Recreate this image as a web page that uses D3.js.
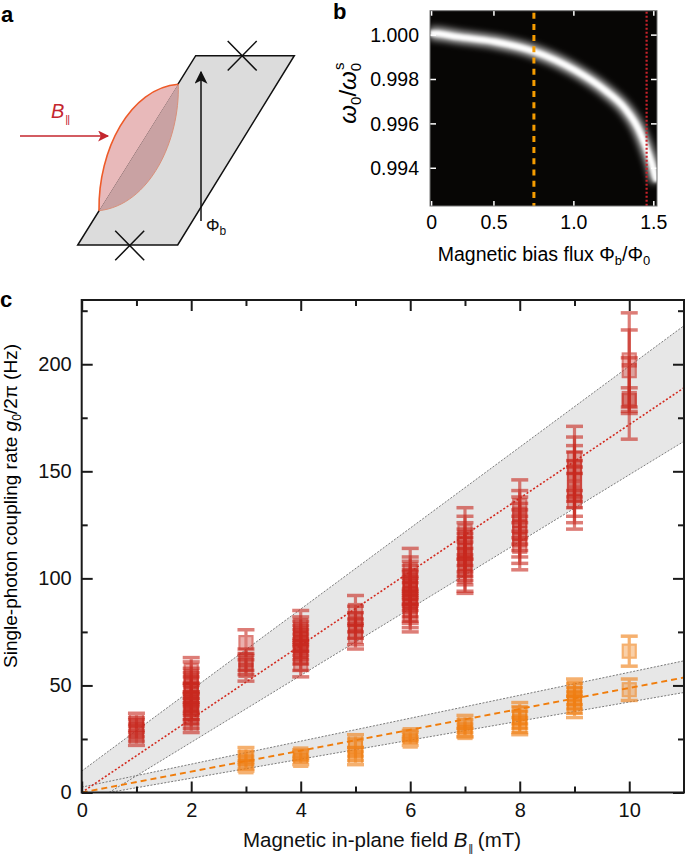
<!DOCTYPE html>
<html>
<head>
<meta charset="utf-8">
<script src="https://cdn.jsdelivr.net/npm/d3@7"></script>
<style>
body { margin: 0; background: #fff; }
text { font-family: "Liberation Sans", Arial, Helvetica, sans-serif; }
</style>
</head>
<body>
<div id="fig"></div>
<script>
// ---- panel b : resonance ridge
var phiRidge   = [0.10, 0.11, 0.277, 0.506, 0.756, 1.006, 1.194, 1.319, 1.402, 1.454, 1.496, 1.517];
var omegaRidge = [1.00008, 1.00008, 0.99992, 0.99970, 0.99925, 0.99842, 0.99752, 0.99670, 0.99580, 0.99490, 0.99400, 0.99340];
var bXTickVals   = [0.11, 0.5, 1.0, 1.5];
var bXTickLabels = ["0", "0.5", "1.0", "1.5"];
var bYTicks      = [1.000, 0.998, 0.996, 0.994];
var phiOrange = 0.75, phiRed = 1.455;

// ---- panel c : single-photon coupling rate (Hz) vs in-plane field (mT)
var redField = [1,1,1,1,1,
    2,2,2,2,2,2,2,2,2,2,2,2,2,
    3,3,3,3,
    4,4,4,4,4,4,4,4,4,
    5,5,5,5,5,
    6,6,6,6,6,6,6,6,6,6,6,6,
    7,7,7,7,7,7,7,7,7,
    8,8,8,8,8,8,8,
    9,9,9,9,9,9,9,
    10,10,10,10];
var redG = [34,32,30,28,25,
    57,54,52,50,48,46,44,42,41,39,37,35,31,
    70,62,60,57,
    78,76,74,72,70,68,66,63,60,
    85,81,78,75,73,
    104,101,99,97,96,95,93,91,89,87,85,83,
    122,119,116,113,111,109,107,104,101,
    134,130,127,124,121,118,115,
    156,152,149,146,142,139,136,
    202,197,184,183];
var redErr = [3,3,4,4,3,
    6,7,6,6,6,5,6,5,5,5,5,5,3,
    6,5,5,5,
    7,6,6,6,6,6,6,6,6,
    7,6,6,6,6,
    10,9,9,9,8,8,8,9,9,8,8,8,
    11,10,10,10,10,10,10,10,8,
    12,11,11,11,11,11,11,
    15,14,13,13,13,13,13,
    22,19,19,6];

var orangeField = [3,3,3,3, 4,4,4, 5,5,5,5, 6,6,6, 7,7,7,7, 8,8,8,8, 9,9,9,9,9, 10,10];
var orangeG     = [18,16,14,12, 18,17,15, 24,21,18,16, 27,26,24, 33,31,29,28, 37,35,33,31, 49,46,44,42,40, 66,48];
var orangeErr   = [3,3,3,2, 2,2,2, 3,4,3,3, 2,2,2, 3,3,3,2, 5,5,5,4, 4,5,5,5,5, 7,5];

// linear fits and confidence bands
var fitField  = [0, 11];
var redFit    = [0, 189];
var orangeFit = [0, 53.7];
var bandField     = [0, 0.5, 11];
var redBandLo     = [0, 0, 164];
var redBandHi     = [10, 19.5, 218];
var orangeBandLo  = [0, 0, 46.7];
var orangeBandHi  = [2.5, 5.2, 61.5];

var W = 685, H = 856;
var svg = d3.select("#fig").append("svg")
    .attr("width", W).attr("height", H);
var defs = svg.append("defs");

// ================= panel a (schematic) =================
var pa = svg.append("g");
var paraPts = [[195.7,55.7],[294.3,55.7],[177.7,245],[77.7,245]];
pa.append("polygon")
    .attr("points", paraPts.map(function(p){ return p.join(","); }).join(" "))
    .attr("fill", "#dcdcdc").attr("stroke", "#111").attr("stroke-width", 1.5)
    .attr("stroke-linejoin", "miter");

// junction crosses
[[242.2,55.8],[129.7,245.5]].forEach(function(c){
    pa.append("path")
        .attr("d", "M" + (c[0]-14.5) + "," + (c[1]-14.8) + "L" + (c[0]+14.5) + "," + (c[1]+14.8) +
                   "M" + (c[0]-14.5) + "," + (c[1]+14.8) + "L" + (c[0]+14.5) + "," + (c[1]-14.8))
        .attr("stroke", "#111").attr("stroke-width", 1.5);
});

// string (lens) on the edge of the loop
var T = [178.3, 84.3], Bp = [99, 210.7];
pa.append("path")
    .attr("d", "M" + Bp + "C98,150 130,88 " + T + "Z")
    .attr("fill", "#e8b9ba");
pa.append("path")
    .attr("d", "M" + T + "C180,140 150,205 " + Bp + "Z")
    .attr("fill", "#c9a2a3");
pa.append("path")
    .attr("d", "M" + T + "C180,140 150,205 " + Bp)
    .attr("fill", "none").attr("stroke", "#d9907a").attr("stroke-width", 1);
pa.append("path")
    .attr("d", "M" + Bp + "C98,150 130,88 " + T)
    .attr("fill", "none").attr("stroke", "#ee5a28").attr("stroke-width", 1.6);

// arrows
defs.append("marker").attr("id", "headRed").attr("viewBox", "0 0 10 10")
    .attr("refX", 9).attr("refY", 5).attr("markerWidth", 12).attr("markerHeight", 11)
    .attr("markerUnits", "userSpaceOnUse").attr("orient", "auto")
  .append("path").attr("d", "M0,0L10,5L0,10L2.5,5Z").attr("fill", "#c4262e");
defs.append("marker").attr("id", "headBlack").attr("viewBox", "0 0 10 10")
    .attr("refX", 9).attr("refY", 5).attr("markerWidth", 13).attr("markerHeight", 13)
    .attr("markerUnits", "userSpaceOnUse").attr("orient", "auto")
  .append("path").attr("d", "M0,0L10,5L0,10L2.5,5Z").attr("fill", "#111");

pa.append("line").attr("x1", 20).attr("y1", 136).attr("x2", 108).attr("y2", 136)
    .attr("stroke", "#c4262e").attr("stroke-width", 1.5).attr("marker-end", "url(#headRed)");
pa.append("line").attr("x1", 201).attr("y1", 221).attr("x2", 201).attr("y2", 72)
    .attr("stroke", "#111").attr("stroke-width", 1.5).attr("marker-end", "url(#headBlack)");

var tB = pa.append("text").attr("x", 51).attr("y", 118).attr("fill", "#c4262e").style("font-size", "20px");
tB.append("tspan").text("B").style("font-style", "italic");
tB.append("tspan").text("||").attr("dx", 1).attr("dy", 5).style("font-size", "11px")
    .style("letter-spacing", "-1px");

var tPhi = pa.append("text").attr("x", 206).attr("y", 231).attr("fill", "#111").style("font-size", "17px");
tPhi.append("tspan").text("\u03a6");
tPhi.append("tspan").text("b").attr("dy", 4).style("font-size", "12px");

svg.append("text").attr("x", 1).attr("y", 22).text("a")
    .style("font-size", "22px").style("font-weight", "bold");

// ================= panel b (frequency map) =================
var bx = d3.scaleLinear().domain([0.1, 1.52]).range([430, 657]);
var by = d3.scaleLinear().domain([0.9923, 1.0011]).range([206, 10.7]);
var pb = svg.append("g");

defs.append("clipPath").attr("id", "clipB").append("rect")
    .attr("x", bx.range()[0]).attr("y", by.range()[1])
    .attr("width", bx.range()[1] - bx.range()[0]).attr("height", by.range()[0] - by.range()[1]);
defs.append("filter").attr("id", "glowWide").attr("x", "-20%").attr("y", "-50%")
    .attr("width", "140%").attr("height", "200%")
  .append("feGaussianBlur").attr("stdDeviation", 3.5);
defs.append("filter").attr("id", "glowCore").attr("x", "-20%").attr("y", "-50%")
    .attr("width", "140%").attr("height", "200%")
  .append("feGaussianBlur").attr("stdDeviation", 1.4);

pb.append("rect")
    .attr("x", bx.range()[0]).attr("y", by.range()[1])
    .attr("width", bx.range()[1] - bx.range()[0]).attr("height", by.range()[0] - by.range()[1])
    .attr("fill", "#070605");

var ridgeLine = d3.line()
    .x(function(d, i){ return bx(phiRidge[i]); })
    .y(function(d){ return by(d); })
    .curve(d3.curveMonotoneX);
var ridgeG = pb.append("g").attr("clip-path", "url(#clipB)");
ridgeG.append("path").attr("d", ridgeLine(omegaRidge))
    .attr("fill", "none").attr("stroke", "#cfcfcf").attr("stroke-width", 12)
    .attr("filter", "url(#glowWide)");
ridgeG.append("path").attr("d", ridgeLine(omegaRidge))
    .attr("fill", "none").attr("stroke", "#ffffff").attr("stroke-width", 5.5)
    .attr("filter", "url(#glowCore)");

// flux markers
pb.append("line").attr("x1", bx(phiOrange)).attr("x2", bx(phiOrange))
    .attr("y1", by.range()[1] + 2).attr("y2", by.range()[0])
    .attr("stroke", "#f59c00").attr("stroke-width", 3).attr("stroke-dasharray", "6,5.2");
pb.append("line").attr("x1", bx(phiRed)).attr("x2", bx(phiRed))
    .attr("y1", by.range()[1] + 1).attr("y2", by.range()[0])
    .attr("stroke", "#c8232b").attr("stroke-width", 2.2).attr("stroke-dasharray", "2,2");

// white inner ticks on all sides
var tickLen = 5;
bXTickVals.forEach(function(v){
    pb.append("line").attr("x1", bx(v)).attr("x2", bx(v))
        .attr("y1", by.range()[0]).attr("y2", by.range()[0] - tickLen)
        .attr("stroke", "#fff").attr("stroke-width", 1.5);
    pb.append("line").attr("x1", bx(v)).attr("x2", bx(v))
        .attr("y1", by.range()[1]).attr("y2", by.range()[1] + tickLen)
        .attr("stroke", "#fff").attr("stroke-width", 1.5);
});
bYTicks.forEach(function(v){
    pb.append("line").attr("x1", bx.range()[0]).attr("x2", bx.range()[0] + tickLen + 1)
        .attr("y1", by(v)).attr("y2", by(v)).attr("stroke", "#fff").attr("stroke-width", 1.5);
    pb.append("line").attr("x1", bx.range()[1]).attr("x2", bx.range()[1] - tickLen - 1)
        .attr("y1", by(v)).attr("y2", by(v)).attr("stroke", "#fff").attr("stroke-width", 1.5);
});
pb.append("rect")
    .attr("x", bx.range()[0]).attr("y", by.range()[1])
    .attr("width", bx.range()[1] - bx.range()[0]).attr("height", by.range()[0] - by.range()[1])
    .attr("fill", "none").attr("stroke", "#777").attr("stroke-width", 1);

// tick labels
pb.selectAll(".bxl").data(bXTickVals).enter().append("text")
    .attr("x", function(d){ return bx(d); }).attr("y", 229)
    .attr("text-anchor", "middle").style("font-size", "19.5px")
    .text(function(d, i){ return bXTickLabels[i]; });
pb.selectAll(".byl").data(bYTicks).enter().append("text")
    .attr("x", 419).attr("y", function(d){ return by(d) + 7; })
    .attr("text-anchor", "end").style("font-size", "19.5px")
    .text(function(d){ return d3.format(".3f")(d); });

var bTitle = pb.append("text").attr("x", 544).attr("y", 261)
    .attr("text-anchor", "middle").style("font-size", "19.5px");
bTitle.append("tspan").text("Magnetic bias flux \u03a6");
bTitle.append("tspan").text("b").attr("dy", 4).style("font-size", "13px");
bTitle.append("tspan").text("/\u03a6").attr("dy", -4);
bTitle.append("tspan").text("0").attr("dy", 4).style("font-size", "13px");

var bYT = pb.append("text").attr("transform", "translate(356,93) rotate(-90)")
    .attr("text-anchor", "middle").style("font-size", "24px");
bYT.append("tspan").text("\u03c9").style("font-style", "italic");
bYT.append("tspan").text("0").attr("dy", 5).style("font-size", "15px");
bYT.append("tspan").text("/").attr("dy", -5);
bYT.append("tspan").text("\u03c9").style("font-style", "italic");
bYT.append("tspan").text("0").attr("dy", 5).style("font-size", "15px");
bYT.append("tspan").text("s").attr("dx", -7).attr("dy", -17).style("font-size", "15px");

svg.append("text").attr("x", 333).attr("y", 19).text("b")
    .style("font-size", "22px").style("font-weight", "bold");

// ================= panel c (coupling rate) =================
var cx = d3.scaleLinear().domain([0, 11]).range([81.7, 684]);
var cy = d3.scaleLinear().domain([0, 230]).range([792.5, 300]);
var pc = svg.append("g");

defs.append("clipPath").attr("id", "clipC").append("rect")
    .attr("x", cx.range()[0]).attr("y", cy.range()[1])
    .attr("width", cx.range()[1] - cx.range()[0]).attr("height", cy.range()[0] - cy.range()[1]);

var plotC = pc.append("g").attr("clip-path", "url(#clipC)");

function drawBand(lo, hi){
    var area = d3.area()
        .x(function(d, i){ return cx(bandField[i]); })
        .y0(function(d, i){ return cy(lo[i]); })
        .y1(function(d, i){ return cy(hi[i]); });
    plotC.append("path").attr("d", area(bandField)).attr("fill", "#e7e7e7");
}
function drawEdge(vals, fromIdx){
    var line = d3.line()
        .x(function(d){ return cx(bandField[d]); })
        .y(function(d){ return cy(vals[d]); });
    plotC.append("path").attr("d", line(d3.range(fromIdx, bandField.length)))
        .attr("fill", "none").attr("stroke", "#7a7a7a").attr("stroke-width", 1)
        .attr("stroke-dasharray", "2,1.5");
}
drawBand(redBandLo, redBandHi);
drawBand(orangeBandLo, orangeBandHi);
drawEdge(redBandHi, 0);
drawEdge(redBandLo, 1);
drawEdge(orangeBandHi, 0);
drawEdge(orangeBandLo, 1);

function drawFit(vals, color, dash, width){
    var line = d3.line()
        .x(function(d, i){ return cx(fitField[i]); })
        .y(function(d){ return cy(d); });
    plotC.append("path").attr("d", line(vals))
        .attr("fill", "none").attr("stroke", color).attr("stroke-width", width)
        .attr("stroke-dasharray", dash);
}
drawFit(redFit, "#d32a1f", "2,2", 1.6);
drawFit(orangeFit, "#f07d0c", "6,4", 2);

function drawPoints(field, g, err, color){
    var pts = field.map(function(f, i){ return {x: f, y: g[i], e: err[i]}; });
    var grp = plotC.append("g").selectAll("g").data(pts).enter().append("g")
        .attr("opacity", 0.6);
    grp.append("line")
        .attr("x1", function(d){ return cx(d.x); }).attr("x2", function(d){ return cx(d.x); })
        .attr("y1", function(d){ return cy(d.y - d.e); }).attr("y2", function(d){ return cy(d.y + d.e); })
        .attr("stroke", color).attr("stroke-width", 3.2);
    [-1, 1].forEach(function(s){
        grp.append("line")
            .attr("x1", function(d){ return cx(d.x) - 8.5; }).attr("x2", function(d){ return cx(d.x) + 8.5; })
            .attr("y1", function(d){ return cy(d.y + s * d.e); }).attr("y2", function(d){ return cy(d.y + s * d.e); })
            .attr("stroke", color).attr("stroke-width", 3.5);
    });
    grp.append("rect")
        .attr("x", function(d){ return cx(d.x) - 6.5; }).attr("y", function(d){ return cy(d.y) - 6.5; })
        .attr("width", 13).attr("height", 13)
        .attr("fill", color).attr("fill-opacity", 0.6)
        .attr("stroke", color).attr("stroke-width", 2.2);
}
drawPoints(redField, redG, redErr, "#c8281e");
drawPoints(orangeField, orangeG, orangeErr, "#f07d10");

// axes with inward ticks on all four sides
var yMajor = [0, 50, 100, 150, 200], yMinor = [25, 75, 125, 175, 225];
var xMajor = [0, 2, 4, 6, 8, 10], xMinor = [1, 3, 5, 7, 9];

function styleAxis(g){
    g.select(".domain").remove();
    g.selectAll(".tick line").attr("stroke", "#1a1a1a").attr("stroke-width", 2);
    g.selectAll(".tick text").style("font-size", "20px").attr("fill", "#111")
        .style("font-family", "'Liberation Sans', Arial, sans-serif");
}
pc.append("g").attr("transform", "translate(" + cx.range()[0] + ",0)")
    .call(d3.axisLeft(cy).tickValues(yMajor).tickSize(-11).tickPadding(10)).call(styleAxis);
pc.append("g").attr("transform", "translate(" + cx.range()[0] + ",0)")
    .call(d3.axisLeft(cy).tickValues(yMinor).tickSize(-6).tickFormat("")).call(styleAxis);
pc.append("g").attr("transform", "translate(" + cx.range()[1] + ",0)")
    .call(d3.axisRight(cy).tickValues(yMajor).tickSize(-11).tickFormat("")).call(styleAxis);
pc.append("g").attr("transform", "translate(" + cx.range()[1] + ",0)")
    .call(d3.axisRight(cy).tickValues(yMinor).tickSize(-6).tickFormat("")).call(styleAxis);
pc.append("g").attr("transform", "translate(0," + cy.range()[0] + ")")
    .call(d3.axisBottom(cx).tickValues(xMajor).tickSize(-11).tickPadding(10)).call(styleAxis);
pc.append("g").attr("transform", "translate(0," + cy.range()[0] + ")")
    .call(d3.axisBottom(cx).tickValues(xMinor).tickSize(-6).tickFormat("")).call(styleAxis);
pc.append("g").attr("transform", "translate(0," + cy.range()[1] + ")")
    .call(d3.axisTop(cx).tickValues(xMajor).tickSize(-11).tickFormat("")).call(styleAxis);
pc.append("g").attr("transform", "translate(0," + cy.range()[1] + ")")
    .call(d3.axisTop(cx).tickValues(xMinor).tickSize(-6).tickFormat("")).call(styleAxis);

pc.append("rect")
    .attr("x", cx.range()[0]).attr("y", cy.range()[1])
    .attr("width", cx.range()[1] - cx.range()[0]).attr("height", cy.range()[0] - cy.range()[1])
    .attr("fill", "none").attr("stroke", "#1a1a1a").attr("stroke-width", 2);

var cxT = pc.append("text").attr("x", 382).attr("y", 847).attr("fill", "#111")
    .attr("text-anchor", "middle").style("font-size", "20.5px");
cxT.append("tspan").text("Magnetic in-plane field ");
cxT.append("tspan").text("B").style("font-style", "italic");
cxT.append("tspan").text("||").attr("dx", 1).attr("dy", 5).attr("fill", "#111")
    .style("font-size", "11px").style("letter-spacing", "-1px");
cxT.append("tspan").text(" (mT)").attr("dy", -5);

var cyT = pc.append("text").attr("transform", "translate(17,506) rotate(-90)")
    .attr("text-anchor", "middle").style("font-size", "19px");
cyT.append("tspan").text("Single-photon coupling rate ");
cyT.append("tspan").text("g").style("font-style", "italic");
cyT.append("tspan").text("0").attr("dy", 4).style("font-size", "12px");
cyT.append("tspan").text("/2\u03c0 (Hz)").attr("dy", -4);

svg.append("text").attr("x", 0).attr("y", 307).text("c")
    .style("font-size", "22px").style("font-weight", "bold");
</script>
</body>
</html>
